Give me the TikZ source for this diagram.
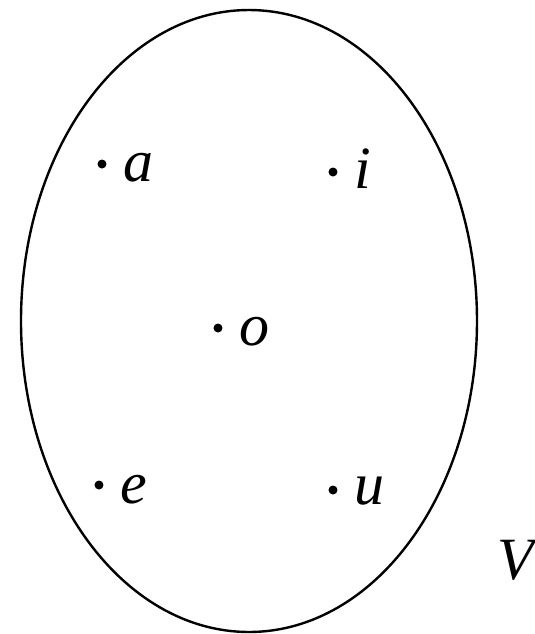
\documentclass[tikz,border=0pt]{standalone}
\usepackage{fontspec}
\setmainfont{Liberation Serif}
\usepackage{tikz}
\usetikzlibrary{positioning}

\tikzset{
    dot/.style={circle, fill=black, inner sep=0pt, minimum size=4.5pt},
    lbl/.style={font=\fontsize{30}{36}\selectfont\itshape, inner sep=0pt, anchor=base west},
}

\begin{document}
\begin{tikzpicture}[x=0.5pt,y=-0.5pt]
    \useasboundingbox (0,0) rectangle (535,634);
    \draw[line width=1.2pt] (249,321) ellipse [x radius=228, y radius=311];

    \node[dot] (a) at (102,164) {};
    \node[dot] (i) at (333,172) {};
    \node[dot] (o) at (218,328) {};
    \node[dot] (e) at (99,485) {};
    \node[dot] (u) at (333,490) {};

    % letters sit with their baseline just under the dot
    \node[lbl] (la) at ([xshift=8pt,yshift=-8.5pt]a.east) {a};
    \node[lbl] (li) at ([xshift=8pt,yshift=-8pt]i.east) {i};
    \node[lbl] (lo) at ([xshift=8pt,yshift=-8.5pt]o.east) {o};
    \node[lbl] (le) at ([xshift=8pt,yshift=-9pt]e.east) {e};
    \node[lbl] (lu) at ([xshift=8pt,yshift=-7pt]u.east) {u};

    \node[lbl] (set) at (497,579) {V};
\end{tikzpicture}
\end{document}
